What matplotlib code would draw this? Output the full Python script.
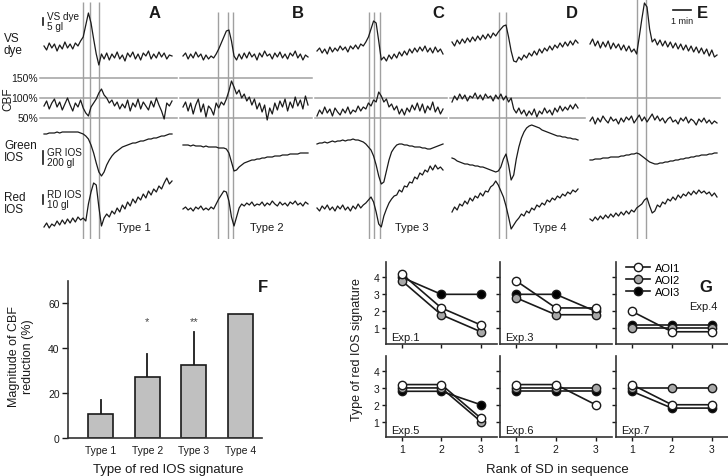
import numpy as np
import matplotlib
matplotlib.use("Agg")
import matplotlib.pyplot as plt

plt.rcParams['font.family'] = ['Liberation Sans', 'DejaVu Sans']

# ---------------- top: example traces (deflection, up = positive, 50 samples) ----
vs_A = [3,-1,6,1,5,-2,4,0,7,1, 5,0,6,3,8,12,24,36,26,10, -5,-16,-5,-10,-4,-11,-5,-9,-3,-10,
        -6,-12,-4,-8,-3,-10,-5,-11,-4,-7, -2,-10,-5,-9,-3,-8,-4,-10,-6,-7]
cbf_A = [-8,-3,-11,-5,-1,-9,-4,-12,-6,0, -7,-13,-5,-9,-2,-10,-15,-18,-9,-5, -1,5,9,3,0,-5,-2,-8,-4,-11,
         -6,-10,-2,-13,-5,-9,-1,-11,-4,-8, -12,-3,-9,0,-7,-13,-21,-5,-8,-3]
green_A = [10,10,11,11,11,12,11,12,12,12, 12,12,12,12,11,10,8,5,-1,-9, -19,-28,-32,-28,-21,-16,-12,-9,-7,-5,
           -3,-2,-1,0,1,1,2,3,3,4, 5,5,6,6,7,8,8,9,10,10]
red_A = [-18,-14,-19,-15,-17,-12,-16,-11,-15,-10, -14,-9,-13,-8,-11,-9,-12,5,17,26, 24,2,-17,-9,-5,-8,-2,-5,1,-3,
         4,0,7,3,10,6,12,9,15,11, 18,14,20,17,23,20,26,31,25,28]

vs_B = [-7,-4,-10,-5,-9,-3,-8,-5,-11,-6, -10,-7,-9,-5,0,6,12,18,19,8, -7,-11,-5,-10,-4,-9,-3,-8,-5,-11,
        -4,-8,-2,-7,-5,-10,-4,-8,-3,-9, -5,-10,-4,-7,-2,-9,-5,-11,-6,-8]
cbf_B = [-9,-4,-13,-5,-16,-7,-1,-14,-6,-19, -8,-11,-17,-5,-10,-4,-7,-1,7,17, 11,4,8,0,4,-3,1,-7,-1,-11,
         -5,-14,-7,-22,-10,-16,-5,-12,-3,-9, -1,-13,-4,-10,1,-8,-2,-11,2,-7]
green_B = [-1,-1,-1,-2,-1,-2,-2,-2,-3,-2, -3,-3,-3,-3,-4,-4,-4,-5,-9,-18, -27,-26,-23,-21,-19,-18,-17,-16,-16,-15,
           -15,-14,-14,-13,-13,-13,-12,-12,-12,-11, -11,-11,-10,-10,-10,-10,-9,-9,-9,-9]
red_B = [0,2,-1,1,-2,2,0,3,-1,1, -1,2,0,5,10,14,18,17,8,-8, -17,-8,1,5,3,6,4,7,3,5,
         4,7,3,6,4,8,5,3,7,4, 6,3,7,5,8,4,6,3,7,5]

vs_C = [-2,1,-4,0,-5,2,-3,1,-2,3, -1,2,-3,3,0,4,0,5,3,7, 12,20,28,26,8,-11,-8,-12,-6,-10,
        -5,-9,-3,-7,-2,-6,0,-4,1,-3, 2,-2,3,-3,1,-4,2,-3,0,-5]
cbf_C = [-18,-12,-16,-9,-15,-11,-18,-10,-14,-17, -11,-15,-9,-16,-12,-14,-8,-13,-9,-11, -5,-8,-2,-4,6,2,-4,-1,-9,-6,
         -12,-8,-16,-11,-17,-10,-14,-7,-12,-5, -13,-6,-15,-8,-12,-4,-14,-9,-16,-11]
green_C = [0,1,1,2,1,2,3,2,3,3, 4,3,4,4,5,4,4,3,2,0, -3,-6,-12,-21,-32,-40,-38,-27,-16,-8,
           -4,-1,0,0,-1,-1,-2,-2,-3,-3, -3,-4,-4,-5,-5,-4,-3,-2,-1,0]
red_C = [1,-2,3,0,4,-1,2,-2,3,0, 4,-1,2,-2,3,0,5,1,4,6, 9,12,7,-3,-15,-18,-7,0,6,10,
         13,14,19,17,23,22,27,26,32,30, 36,34,39,37,43,39,44,40,42,39]

vs_D = [7,3,9,5,10,6,11,7,12,8, 13,9,14,10,15,11,16,13,17,20, 23,24,12,-2,-12,-13,-8,-11,-6,-9,
        -4,-7,-2,-6,0,-4,1,-2,3,-1, 4,1,6,2,7,3,8,4,9,6]
cbf_D = [-4,2,-2,4,-1,3,-3,2,0,5, -1,3,-2,4,0,2,-3,3,-1,4, -2,2,-4,0,-11,-15,-10,-16,-12,-18,
         -13,-17,-11,-19,-13,-16,-10,-15,-12,-17, -10,-14,-8,-13,-9,-12,-7,-11,-6,-10]
green_D = [-14,-15,-17,-18,-19,-20,-20,-21,-21,-22, -22,-23,-23,-24,-25,-26,-27,-28,-27,-23,
           -15,-10,-21,-36,-31,-15,-3,6,12,16, 18,19,18,17,16,14,13,12,11,10, 9,8,8,7,7,6,6,5,5,4]
red_D = [-3,2,-1,5,3,8,5,11,8,13, 11,16,13,18,17,22,24,28,24,18, 12,3,-8,-20,-16,-12,-9,-5,-7,-2,
         -4,1,-1,4,2,6,4,9,7,11, 9,13,11,15,13,17,15,19,17,20]

vs_E = [5,10,3,8,1,7,2,8,0,6, 1,5,-1,4,-2,3,-3,0,-5,12, 30,46,42,20,7,10,4,9,3,8,
        2,7,1,6,0,5,-1,4,-2,3, -3,2,-4,1,-5,0,-7,-1,-8,-6]
cbf_E = [-23,-19,-26,-20,-24,-18,-22,-25,-19,-23, -21,-26,-20,-24,-19,-22,-18,-25,-21,-17,
         -23,-19,-24,-20,-16,-22,-18,-23,-20,-25, -21,-19,-24,-22,-26,-20,-23,-19,-25,-21,
         -23,-27,-21,-24,-20,-25,-22,-26,-23,-25]
green_E = [-16,-16,-15,-15,-15,-14,-14,-14,-13,-13, -13,-13,-12,-12,-11,-11,-10,-10,-9,-10,
           -12,-14,-16,-18,-19,-20,-20,-19,-19,-18, -18,-17,-17,-16,-16,-15,-15,-14,-14,-13,
           -13,-12,-12,-11,-11,-11,-10,-10,-9,-9]
red_E = [-10,-12,-8,-11,-7,-10,-6,-9,-5,-8, -4,-7,-3,-6,-2,-5,-1,-3,1,3, 5,9,11,3,-4,-2,4,2,7,5,
         10,8,12,9,14,11,15,13,17,14, 18,15,19,16,18,15,17,13,16,12]

type_labels = ["Type 1", "Type 2", "Type 3", "Type 4", ""]

# ---------------- F: bar chart ----
f_types = ["Type 1", "Type 2", "Type 3", "Type 4"]
f_mean = [10.7, 27.3, 32.6, 55.3]
f_err = [6.2, 10.0, 14.5, 0.0]
f_sig = ["", "*", "**", ""]

# ---------------- G: IOS type vs rank ----
g_exps = ["Exp.1", "Exp.3", "Exp.4", "Exp.5", "Exp.6", "Exp.7"]
g_rank = [1, 2, 3]
aoi1 = [[4.2, 2.2, 1.2], [3.8, 2.2, 2.2], [2.0, 0.8, 0.8], [3.2, 3.2, 1.2], [3.2, 3.2, 2.0], [3.2, 2.0, 2.0]]
aoi2 = [[3.8, 1.8, 0.8], [2.8, 1.8, 1.8], [1.0, 1.0, 1.0], [3.0, 3.0, 1.0], [3.0, 3.0, 3.0], [3.0, 3.0, 3.0]]
aoi3 = [[4.0, 3.0, 3.0], [3.0, 3.0, 2.0], [1.2, 1.2, 1.2], [2.8, 2.8, 2.0], [2.8, 2.8, 2.8], [2.8, 1.8, 1.8]]

# ---------------- layout ----
W, H = 728, 477
ink = '#1a1a1a'
grey = '#a0a0a0'
fig = plt.figure(figsize=(7.28, 4.77), dpi=100)

top = fig.add_axes([0, 1 - 240 / H, 1, 240 / H])
top.set_xlim(0, W)
top.set_ylim(240, 0)
top.axis('off')

col_x = [(44, 172), (183, 308), (317, 443), (452, 578), (590, 717)]
events = [[83, 90, 99], [218, 228, 233], [369, 374, 380], [499, 506], [637, 646]]
ev_top = [3, 13, 13, 13, 0]
line_span = [(40, 177), (180, 312), (315, 447), (450, 585), (587, 720)]
letters = ["A", "B", "C", "D", "E"]
letter_x = [155, 298, 438, 572, 702]
type_x = [134, 267, 412, 550, 0]
levels = [50, 99, 145, 210]
traces = [[vs_A, cbf_A, green_A, red_A], [vs_B, cbf_B, green_B, red_B],
          [vs_C, cbf_C, green_C, red_C], [vs_D, cbf_D, green_D, red_D],
          [vs_E, cbf_E, green_E, red_E]]

for c in range(5):
    x0, x1 = col_x[c]
    s0, s1 = line_span[c]
    # reference lines for CBF
    hl = [99] if c == 4 else [99, 119]
    if c < 2:
        hl = [79] + hl
    for y in hl:
        top.plot([s0, s1], [y, y], color=grey, lw=1.1, zorder=1)
    top.vlines(events[c], ev_top[c], 240, color=grey, lw=1.0, zorder=1)
    for lev, tr in zip(levels, traces[c]):
        xs = np.linspace(x0, x1, len(tr))
        top.plot(xs, lev - np.array(tr), color=ink, lw=0.9, zorder=3)
    top.text(letter_x[c], 13, letters[c], fontsize=12, fontweight='bold',
             ha='center', va='center', color=ink)
    if type_labels[c]:
        top.text(type_x[c], 228, type_labels[c], fontsize=8, ha='center', va='center', color=ink)

# left labels
top.text(4, 45, "VS\ndye", fontsize=8.5, ha='left', va='center', color=ink, linespacing=1.1)
for lab, y in zip(["150%", "100%", "50%"], [79, 99, 119]):
    top.text(38, y, lab, fontsize=7.5, ha='right', va='center', color=ink)
top.text(8, 99, "CBF", fontsize=8.5, rotation=90, ha='center', va='center', color=ink)
top.text(4, 152, "Green\nIOS", fontsize=8.5, ha='left', va='center', color=ink, linespacing=1.1)
top.text(4, 204, "Red\nIOS", fontsize=8.5, ha='left', va='center', color=ink, linespacing=1.1)
# scale bars
for (ya, yb), lab in zip([(19, 26), (152, 165), (196, 205)], ["VS dye\n5 gl", "GR IOS\n200 gl", "RD IOS\n10 gl"]):
    top.plot([43, 43], [ya, yb], color=ink, lw=1.2)
    top.text(47, (ya + yb) / 2, lab, fontsize=7.2, ha='left', va='center', color=ink, linespacing=1.0)
top.plot([673, 691], [11, 11], color=ink, lw=1.2)
top.text(682, 22, "1 min", fontsize=6.5, ha='center', va='center', color=ink)

# ---------------- F ----
axF = fig.add_axes([68 / W, 1 - 439 / H, 194 / W, 157 / H])
pos = np.arange(1, 5)
axF.bar(pos, f_mean, width=0.54, color='#c0c0c0', edgecolor=ink, linewidth=1.2, zorder=2)
for p, m, e, s in zip(pos, f_mean, f_err, f_sig):
    if e > 0:
        axF.plot([p, p], [m, m + e], color=ink, lw=1.3, zorder=1)
    if s:
        axF.text(p, 52, s, fontsize=8, ha='center', va='center', color='#444')
axF.set_xlim(0.295, 4.47)
axF.set_ylim(0, 70)
axF.set_yticks([0, 20, 40, 60])
axF.set_xticks(pos)
axF.set_xticklabels(f_types)
axF.tick_params(axis='x', length=0, pad=5, labelsize=7.5, colors=ink)
axF.tick_params(axis='y', length=4, width=1, pad=2, labelsize=7.5, colors=ink)
for sp in ['top', 'right']:
    axF.spines[sp].set_visible(False)
for sp in ['left', 'bottom']:
    axF.spines[sp].set_linewidth(1.2)
    axF.spines[sp].set_color('#333')
fig.text(168 / W, 1 - 470 / H, "Type of red IOS signature", fontsize=9.5, ha='center', va='center', color=ink)
fig.text(21 / W, 1 - 357 / H, "Magnitude of CBF\nreduction (%)", fontsize=9, rotation=90,
         ha='center', va='center', color=ink, multialignment='center')
fig.text(263 / W, 1 - 287 / H, "F", fontsize=12, fontweight='bold', ha='center', va='center', color=ink)

# ---------------- G ----
g_cols = [(386, 497), (500, 612), (616, 728)]
g_rows = [(263, 345), (357, 438)]
for k, name in enumerate(g_exps):
    r, c = divmod(k, 3)
    xa, xb = g_cols[c]
    ya, yb = g_rows[r]
    ax = fig.add_axes([xa / W, 1 - yb / H, (xb - xa) / W, (yb - ya) / H])
    for vals, fc, lab in [(aoi3[k], 'black', 'AOI3'), (aoi2[k], '#a8a8a8', 'AOI2'), (aoi1[k], 'white', 'AOI1')]:
        ax.plot(g_rank, vals, color=ink, lw=1.2, marker='o', ms=6, mfc=fc, mec=ink, mew=1.0, label=lab)
    ax.set_xlim(0.6, 3.41)
    ax.set_ylim(0.08, 4.9)
    ax.set_xticks(g_rank)
    ax.set_yticks([1, 2, 3, 4])
    ax.tick_params(length=3, width=1, pad=2, labelsize=7.5, colors=ink)
    if c > 0:
        ax.set_yticklabels([])
    if r == 0:
        ax.set_xticklabels([])
    for sp in ['top', 'right']:
        ax.spines[sp].set_visible(False)
    for sp in ['left', 'bottom']:
        ax.spines[sp].set_linewidth(1.2)
        ax.spines[sp].set_color('#333')
    if name == "Exp.4":
        ax.text(0.91, 0.46, name, transform=ax.transAxes, fontsize=8, ha='right', va='center', color=ink)
        h, l = ax.get_legend_handles_labels()
        ax.legend(h[::-1], l[::-1], loc='upper left', bbox_to_anchor=(0.03, 1.07), frameon=False,
                  fontsize=8, handlelength=2.2, handletextpad=0.4, labelspacing=0.2, borderpad=0.1)
        ax.text(0.8, 0.7, "G", transform=ax.transAxes, fontsize=12, fontweight='bold',
                ha='center', va='center', color=ink)
    else:
        ax.text(0.05, 0.09, name, transform=ax.transAxes, fontsize=8, ha='left', va='center', color=ink)

fig.text(557 / W, 1 - 470 / H, "Rank of SD in sequence", fontsize=9.5, ha='center', va='center', color=ink)
fig.text(357 / W, 1 - 350 / H, "Type of red IOS signature", fontsize=9, rotation=90,
         ha='center', va='center', color=ink)

fig.savefig("out.png", dpi=100)
